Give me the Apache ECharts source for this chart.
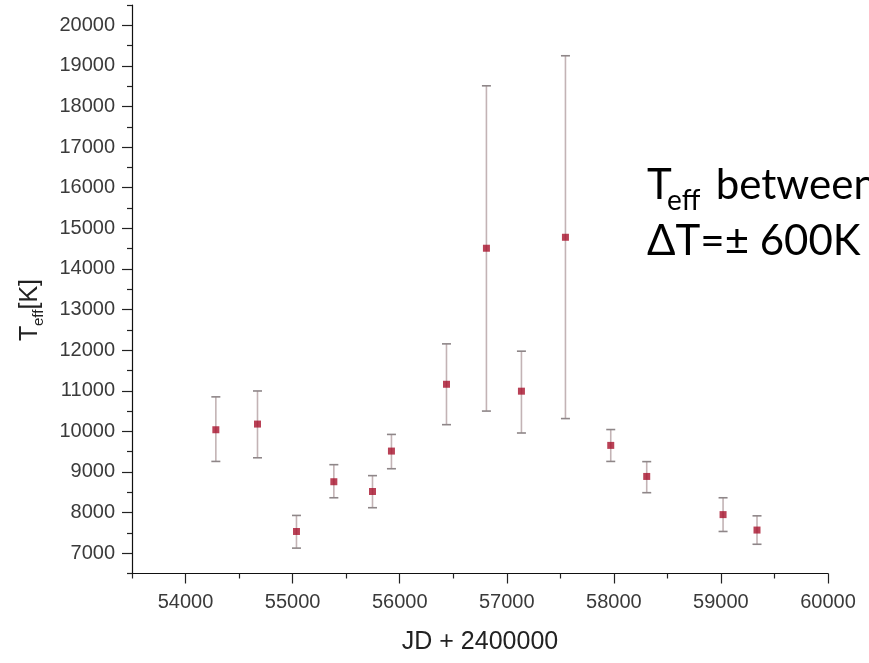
<!DOCTYPE html>
<html>
<head>
<meta charset="utf-8">
<script src="https://cdn.jsdelivr.net/npm/echarts@6/dist/echarts.min.js"></script>
<style>
html,body{margin:0;padding:0;background:#fff;}
#chart{width:869px;height:663px;}
</style>
</head>
<body>
<div id="chart"></div>
<script>
// ---- data ----
const jd      = [54283, 54672, 55036, 55385, 55746, 55923, 56437, 56810, 57137, 57548, 57971, 58307, 59020, 59337];
const teff    = [10040, 10180,  7535,  8760,  8520,  9515, 11160, 14510, 10990, 14780,  9655,  8890,  7950,  7570];
const errLow  = [ 9260,  9350,  7125,  8365,  8120,  9080, 10165, 10500,  9960, 10315,  9260,  8490,  7535,  7220];
const errHigh = [10850, 10995,  7930,  9180,  8910,  9925, 12155, 18510, 11975, 19250, 10045,  9255,  8365,  7920];

const xTicks      = [54000, 55000, 56000, 57000, 58000, 59000, 60000];
const xMinorTicks = [53500, 54500, 55500, 56500, 57500, 58500, 59500];
const yTicks      = [7000, 8000, 9000, 10000, 11000, 12000, 13000, 14000, 15000, 16000, 17000, 18000, 19000, 20000];
const yMinorTicks = [6500, 7500, 8500, 9500, 10500, 11500, 12500, 13500, 14500, 15500, 16500, 17500, 18500, 19500, 20500];

const xTitle = 'JD + 2400000';
const noteLine1 = ['T', 'eff', ' between'];
const noteLine2 = 'ΔT=± 600K';

const X_MIN = 53500, X_MAX = 60000, Y_MIN = 6500, Y_MAX = 20500;

const chart = echarts.init(document.getElementById('chart'), null, {renderer: 'canvas'});

const axisFont = 'Liberation Sans, Arial, sans-serif';
const labelColor = '#3a3a3a';
const plain = v => String(v);

const points = jd.map((x, i) => [x, teff[i]]);
const bars = jd.map((x, i) => [x, errLow[i], errHigh[i]]);

const option = {
  backgroundColor: '#ffffff',
  animation: false,
  grid: {left: 132, right: 41, top: 5, bottom: 89.5, containLabel: false},
  xAxis: [
    {
      type: 'value', min: X_MIN, max: X_MAX, interval: 500,
      axisLine: {show: true, onZero: false, lineStyle: {color: '#111', width: 1.2}},
      axisTick: {show: true, inside: false, length: 10, customValues: xTicks, lineStyle: {color: '#222', width: 1.2}},
      axisLabel: {show: true, margin: 19, customValues: xTicks, formatter: plain, color: labelColor, fontFamily: axisFont, fontSize: 20},
      splitLine: {show: false},
      name: xTitle, nameLocation: 'middle', nameGap: 56,
      nameTextStyle: {color: '#222', fontFamily: axisFont, fontSize: 25}
    },
    {
      type: 'value', min: X_MIN, max: X_MAX, interval: 500, position: 'bottom', offset: 0,
      axisLine: {show: false},
      axisTick: {show: true, inside: false, length: 5, customValues: xMinorTicks, lineStyle: {color: '#222', width: 1.2}},
      axisLabel: {show: false},
      splitLine: {show: false}
    }
  ],
  yAxis: [
    {
      type: 'value', min: Y_MIN, max: Y_MAX, interval: 500,
      axisLine: {show: true, onZero: false, lineStyle: {color: '#111', width: 1.2}},
      axisTick: {show: true, inside: false, length: 10, customValues: yTicks, lineStyle: {color: '#222', width: 1.2}},
      axisLabel: {show: true, margin: 17, customValues: yTicks, formatter: plain, color: labelColor, fontFamily: axisFont, fontSize: 20},
      splitLine: {show: false}
    },
    {
      type: 'value', min: Y_MIN, max: Y_MAX, interval: 500, position: 'left', offset: 0,
      axisLine: {show: false},
      axisTick: {show: true, inside: false, length: 5, customValues: yMinorTicks, lineStyle: {color: '#222', width: 1.2}},
      axisLabel: {show: false},
      splitLine: {show: false}
    }
  ],
  series: [
    {
      type: 'custom',
      xAxisIndex: 0, yAxisIndex: 0,
      data: bars,
      encode: {x: 0, y: [1, 2]},
      z: 2,
      renderItem: function (params, api) {
        const x = api.value(0);
        const pLo = api.coord([x, api.value(1)]);
        const pHi = api.coord([x, api.value(2)]);
        const hw = 4.5;
        return {
          type: 'group',
          children: [
            {type: 'line', shape: {x1: pHi[0], y1: pHi[1], x2: pLo[0], y2: pLo[1]}, style: {stroke: '#c3b3b5', lineWidth: 1.6}},
            {type: 'line', shape: {x1: pHi[0] - hw, y1: pHi[1], x2: pHi[0] + hw, y2: pHi[1]}, style: {stroke: '#8e8688', lineWidth: 1.6}},
            {type: 'line', shape: {x1: pLo[0] - hw, y1: pLo[1], x2: pLo[0] + hw, y2: pLo[1]}, style: {stroke: '#8e8688', lineWidth: 1.6}}
          ]
        };
      }
    },
    {
      type: 'scatter',
      xAxisIndex: 0, yAxisIndex: 0,
      data: points,
      symbol: 'rect',
      symbolSize: 7,
      itemStyle: {color: '#a8122c'},
      z: 3
    }
  ],
  graphic: [
    {
      type: 'group', x: 30, y: 341, rotation: Math.PI / 2,
      children: [
        {type: 'text', x: 0, y: 0, style: {text: 'T', font: '25px Liberation Sans, Arial, sans-serif', fill: '#222', align: 'left', verticalAlign: 'middle'}},
        {type: 'text', x: 15, y: 8.8, style: {text: 'eff', font: '15px Liberation Sans, Arial, sans-serif', fill: '#222', align: 'left', verticalAlign: 'middle'}},
        {type: 'text', x: 31.5, y: 0, style: {text: '[K]', font: '25px Liberation Sans, Arial, sans-serif', fill: '#222', align: 'left', verticalAlign: 'middle'}}
      ]
    },
    {type: 'text', x: 647, y: 185.7, style: {text: noteLine1[0], font: '42px Lato, sans-serif', fill: '#000', align: 'left', verticalAlign: 'middle'}},
    {type: 'text', x: 667, y: 201.2, style: {text: noteLine1[1], font: '28px Lato, sans-serif', fill: '#000', align: 'left', verticalAlign: 'middle'}},
    {type: 'text', x: 705, y: 185.7, style: {text: noteLine1[2], font: '42px Lato, sans-serif', fill: '#000', align: 'left', verticalAlign: 'middle'}},
    {type: 'text', x: 647, y: 241.7, style: {text: noteLine2, font: '42px Lato, sans-serif', fill: '#000', align: 'left', verticalAlign: 'middle'}}
  ]
};

chart.setOption(option);
</script>
</body>
</html>
